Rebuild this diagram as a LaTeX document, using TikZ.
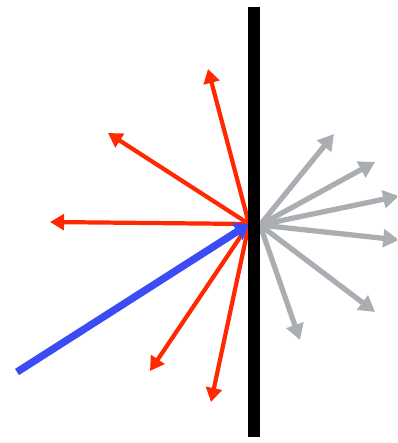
\documentclass[tikz,border=0pt]{standalone}
\usepackage{tikz}
\usetikzlibrary{arrows.meta}
\definecolor{rayred}{RGB}{255,40,0}
\definecolor{rayblue}{RGB}{60,76,245}
\definecolor{raygray}{RGB}{170,174,178}

\begin{document}
\begin{tikzpicture}[x=0.02cm,y=-0.02cm,
	reflected/.style={draw=rayred,line width=2.4pt,-{Triangle[length=8pt,width=9pt]}},
	passed/.style={draw=raygray,line width=3pt,-{Triangle[length=9pt,width=10pt]}},
	incoming/.style={draw=rayblue,line width=4.2pt,-{Triangle[length=8pt,width=11pt]}}]
	\useasboundingbox (0,0) rectangle (397,443);
	\clip (0,0) rectangle (397,443);
	\coordinate (hitl) at (249,224);
	\coordinate (hitr) at (260,225);
	\coordinate (src) at (17,372);
	\foreach \n/\x/\y in {1/208/69,2/108/133,3/50/222,4/150/371,5/211/402} \coordinate (red\n) at (\x,\y);
	\foreach \n/\x/\y in {1/334/134,2/375/162,3/399/196,4/399/240,5/375/312,6/300/340} \coordinate (gray\n) at (\x,\y);
	\foreach \n in {1,...,6} \draw[passed] (hitr) -- (gray\n);
	\foreach \n in {1,...,5} \draw[reflected] (hitl) -- (red\n);
	\draw[incoming] (src) -- (hitl);
	\fill[black] (248,7) rectangle (260,437);
\end{tikzpicture}
\end{document}
